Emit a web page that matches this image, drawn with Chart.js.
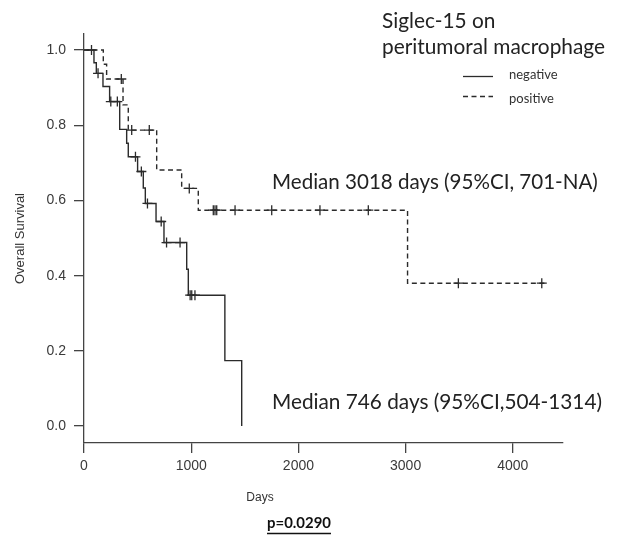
<!DOCTYPE html>
<html>
<head>
<meta charset="utf-8">
<script src="https://cdn.jsdelivr.net/npm/chart.js@4.4.1/dist/chart.umd.min.js"></script>
<style>
  html, body { margin: 0; padding: 0; background: #fff; }
  #wrap { width: 634px; height: 544px; position: relative; }
</style>
</head>
<body>
<div id="wrap"><canvas id="kmChart"></canvas></div>
<script>
// Siglec-15 negative (solid): event times (days) and survival after each step
var negTimes = [0, 93, 115, 177, 239, 333, 398, 413, 500, 553, 572, 672, 746, 958, 973, 1314, 1471];
var negSurv  = [1.0, 0.966, 0.938, 0.903, 0.863, 0.789, 0.752, 0.716, 0.677, 0.633, 0.592, 0.544, 0.488, 0.417, 0.348, 0.174, 0.0];
var negCensor = [70, 131, 250, 311, 480, 535, 592, 720, 770, 896, 990, 1005, 1035];

// Siglec-15 positive (dashed)
var posTimes = [0, 180, 211, 364, 413, 678, 911, 1066, 3018, 4316];
var posSurv  = [1.0, 0.962, 0.923, 0.854, 0.787, 0.681, 0.632, 0.574, 0.380, 0.380];
var posCensor = [348, 445, 609, 982, 1206, 1222, 1238, 1409, 1751, 2201, 2652, 3492, 4270];

var xTicks = [0, 1000, 2000, 3000, 4000];
var yTicks = [0, 0.2, 0.4, 0.6, 0.8, 1.0];

var lineColor = '#2b2b2b';
var axisColor = '#444';

function toPoints(times, surv) {
    return times.map(function (t, i) { return { x: t, y: surv[i] }; });
}

// survival value of a curve at time t (for placing the censor marks)
function survAt(times, surv, t) {
    var s = surv[0];
    for (var i = 0; i < times.length; i++) {
        if (times[i] <= t) s = surv[i];
    }
    return s;
}

function censorPoints(cens, times, surv) {
    return cens.map(function (t) { return { x: t, y: survAt(times, surv, t) }; });
}

// fit a font size so the text spans a given width
function fitFont(ctx, text, weight, family, width) {
    ctx.font = weight + ' 20px ' + family;
    var w = ctx.measureText(text).width;
    return weight + ' ' + (20 * width / w).toFixed(2) + 'px ' + family;
}

var annotations = {
    id: 'annotations',
    afterDraw: function (chart) {
        var ctx = chart.ctx;
        ctx.save();
        ctx.fillStyle = '#222';
        ctx.textBaseline = 'middle';
        ctx.textAlign = 'left';

        // legend title
        ctx.font = fitFont(ctx, 'peritumoral macrophage', '', 'Lato', 223);
        ctx.fillText('Siglec-15 on', 382, 21);
        ctx.fillText('peritumoral macrophage', 382, 47);

        // legend entries
        ctx.strokeStyle = lineColor;
        ctx.lineWidth = 1.3;
        ctx.beginPath();
        ctx.moveTo(463, 76.5); ctx.lineTo(493, 76.5);
        ctx.stroke();
        ctx.setLineDash([5, 3.5]);
        ctx.beginPath();
        ctx.moveTo(463, 96.5); ctx.lineTo(493, 96.5);
        ctx.stroke();
        ctx.setLineDash([]);
        ctx.fillStyle = '#333';
        ctx.font = '13px Lato';
        ctx.fillText('negative', 509, 75);
        ctx.fillText('positive', 509, 99);

        // median annotations
        ctx.fillStyle = '#222';
        var m1 = 'Median 3018 days (95%CI, 701-NA)';
        var m2 = 'Median 746 days (95%CI,504-1314)';
        ctx.font = fitFont(ctx, m1, '', 'Lato', 326);
        ctx.fillText(m1, 272, 182);
        ctx.font = fitFont(ctx, m2, '', 'Lato', 330);
        ctx.fillText(m2, 272, 402);

        // x axis title
        ctx.fillStyle = '#333';
        ctx.textAlign = 'center';
        ctx.font = '12px "Liberation Sans"';
        ctx.fillText('Days', 260, 498);

        // p value, bold and underlined
        ctx.fillStyle = '#111';
        ctx.font = fitFont(ctx, 'p=0.0290', 'bold', 'Lato', 64);
        ctx.fillText('p=0.0290', 299, 523);
        var pw = ctx.measureText('p=0.0290').width;
        ctx.strokeStyle = '#111';
        ctx.lineWidth = 1.6;
        ctx.beginPath();
        ctx.moveTo(299 - pw / 2, 533.5); ctx.lineTo(299 + pw / 2, 533.5);
        ctx.stroke();
        ctx.restore();
    }
};

var ctx = document.getElementById('kmChart').getContext('2d');
var myChart = new Chart(ctx, {
    type: 'line',
    data: {
        datasets: [{
            label: 'negative',
            data: toPoints(negTimes, negSurv),
            stepped: 'before',
            borderColor: lineColor,
            borderWidth: 1.4,
            pointRadius: 0,
            fill: false
        }, {
            label: 'positive',
            data: toPoints(posTimes, posSurv),
            stepped: 'before',
            borderColor: lineColor,
            borderWidth: 1.4,
            borderDash: [5, 3.5],
            pointRadius: 0,
            fill: false
        }, {
            label: 'negative censored',
            data: censorPoints(negCensor, negTimes, negSurv),
            showLine: false,
            pointStyle: 'cross',
            pointRadius: 5,
            pointBorderWidth: 1.3,
            pointBorderColor: lineColor
        }, {
            label: 'positive censored',
            data: censorPoints(posCensor, posTimes, posSurv),
            showLine: false,
            pointStyle: 'cross',
            pointRadius: 5,
            pointBorderWidth: 1.3,
            pointBorderColor: lineColor
        }]
    },
    plugins: [annotations],
    options: {
        maintainAspectRatio: false,
        responsive: true,
        animation: false,
        layout: {
            padding: { left: 0, top: 34, right: 71, bottom: 61 }
        },
        plugins: {
            legend: { display: false },
            tooltip: { enabled: false }
        },
        scales: {
            x: {
                type: 'linear',
                min: 0,
                max: 4468,
                afterBuildTicks: function (scale) {
                    scale.ticks = xTicks.map(function (v) { return { value: v }; });
                },
                afterFit: function (scale) { scale.height = 40; },
                ticks: {
                    color: '#3a3a3a',
                    font: { family: 'Liberation Sans', size: 14 },
                    padding: 5,
                    maxRotation: 0,
                    callback: function (v) { return String(v); }
                },
                grid: {
                    drawOnChartArea: false,
                    drawTicks: true,
                    tickLength: 10,
                    color: axisColor,
                    lineWidth: 1.3
                },
                border: { display: true, color: axisColor, width: 1.3 }
            },
            y: {
                type: 'linear',
                min: -0.045,
                max: 1.0426,
                afterBuildTicks: function (scale) {
                    scale.ticks = yTicks.map(function (v) { return { value: v }; });
                },
                afterFit: function (scale) { scale.width = 84; },
                title: {
                    display: true,
                    text: 'Overall Survival',
                    color: '#333',
                    font: { family: 'Liberation Sans', size: 13 },
                    padding: { top: 13, bottom: 0 }
                },
                ticks: {
                    color: '#3a3a3a',
                    font: { family: 'Liberation Sans', size: 14 },
                    padding: 8,
                    callback: function (v) { return v.toFixed(1); }
                },
                grid: {
                    drawOnChartArea: false,
                    drawTicks: true,
                    tickLength: 10,
                    color: axisColor,
                    lineWidth: 1.3
                },
                border: { display: true, color: axisColor, width: 1.3 }
            }
        }
    }
});
</script>
</body>
</html>
